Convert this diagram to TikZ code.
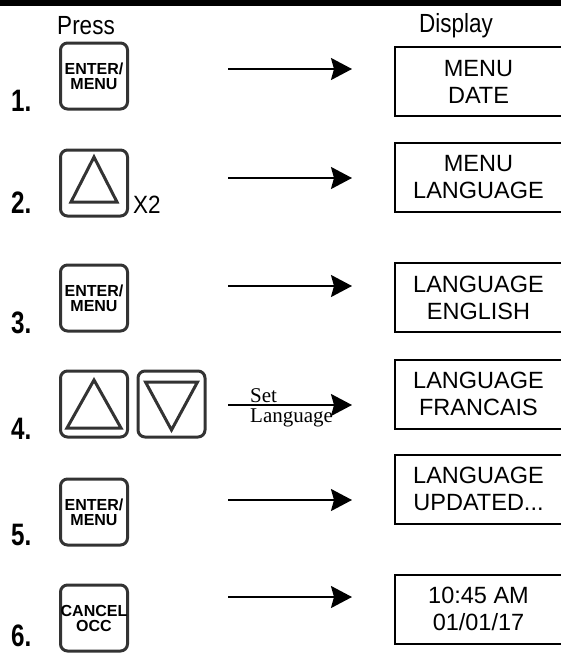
\documentclass[tikz,border=0pt]{standalone}
\usepackage{fontspec}
\setmainfont{Liberation Sans}
\newfontfamily\labelserif{Liberation Serif}
\usepackage{tikz}
\usetikzlibrary{positioning,calc,arrows.meta}
\definecolor{KeyGray}{RGB}{51,51,51}
\tikzset{
    keynode/.style={rectangle, rounded corners=7pt, draw=KeyGray, line width=3pt, minimum width=67pt, minimum height=66pt, inner sep=0pt, align=center, font=\fontsize{16}{15}\selectfont\bfseries},
    dispnode/.style={rectangle, draw=black, line width=2pt, minimum width=167pt, minimum height=69pt, inner sep=0pt, align=center, font=\fontsize{23.5}{27}\selectfont},
    steparrow/.style={line width=2pt, -{Stealth[length=21pt, width=22pt, inset=3pt]}},
    keytri/.style={draw=KeyGray, line width=3pt, line join=miter},
    numnode/.style={anchor=base west, inner sep=0pt, font=\fontsize{31}{31}\selectfont\bfseries},
    headnode/.style={anchor=base, inner sep=0pt, font=\fontsize{25}{25}\selectfont}
}
\newcommand{\stepno}[1]{\scalebox{0.78}[1]{#1}}

\begin{document}
\begin{tikzpicture}[x=1pt, y=1pt]
    \useasboundingbox (0,0) rectangle (561,-653);
    % --- THANH ĐEN PHÍA TRÊN ---
    \fill[black] (0,0) rectangle (561,-6);

    % --- TIÊU ĐỀ ---
    \node[headnode] (press) at (86,-34) {\scalebox{0.9}[1.05]{Press}};
    \node[headnode] (display) at (456,-32) {\scalebox{0.9}[1.05]{Display}};

    % --- SỐ BƯỚC ---
    \node[numnode] (n1) at (11,-111) {\stepno{1.}};
    \node[numnode] (n2) at (11,-213) {\stepno{2.}};
    \node[numnode] (n3) at (11,-333) {\stepno{3.}};
    \node[numnode] (n4) at (11,-439) {\stepno{4.}};
    \node[numnode] (n5) at (11,-545) {\stepno{5.}};
    \node[numnode] (n6) at (11,-646) {\stepno{6.}};

    % --- PHÍM BẤM ---
    \node[keynode] (enter1) at (94,-76) {ENTER/\\MENU};
    \node[keynode] (up1) at (94,-183) {};
    \draw[keytri] ($(up1)+(0,26)$) -- ($(up1)+(-23,-19)$) -- ($(up1)+(23,-19)$) -- cycle;
    \node[anchor=base west, inner sep=0pt, font=\fontsize{25}{25}\selectfont] (times) at (133,-213) {\scalebox{0.9}[1]{X2}};
    \node[keynode] (enter2) at (94,-298) {ENTER/\\MENU};
    \node[keynode] (up2) at (94,-404) {};
    \draw[keytri] ($(up2)+(0,24)$) -- ($(up2)+(-27,-24)$) -- ($(up2)+(27,-24)$) -- cycle;
    \node[keynode] (down2) at (171.5,-404) {};
    \draw[keytri] ($(down2)+(-26,22)$) -- ($(down2)+(26,22)$) -- ($(down2)+(0,-26)$) -- cycle;
    \node[keynode] (enter3) at (94,-512) {ENTER/\\MENU};
    \node[keynode] (cancel) at (94,-618) {CANCEL\\OCC};

    % --- MÀN HÌNH ---
    \node[dispnode] (d1) at (478.5,-81.5) {MENU\\DATE};
    \node[dispnode] (d2) at (478.5,-177.5) {MENU\\LANGUAGE};
    \node[dispnode] (d3) at (478.5,-297.5) {LANGUAGE\\ENGLISH};
    \node[dispnode] (d4) at (478.5,-394) {LANGUAGE\\FRANCAIS};
    \node[dispnode] (d5) at (478.5,-489) {LANGUAGE\\UPDATED...};
    \node[dispnode] (d6) at (478.5,-609) {10:45 AM\\01/01/17};

    % --- MŨI TÊN ---
    \coordinate (s1) at (228,-69);  \coordinate (e1) at (352,-69);
    \coordinate (s2) at (228,-178); \coordinate (e2) at (352,-178);
    \coordinate (s3) at (228,-286); \coordinate (e3) at (352,-286);
    \coordinate (s4) at (228,-405); \coordinate (e4) at (352,-405);
    \coordinate (s5) at (228,-500); \coordinate (e5) at (352,-500);
    \coordinate (s6) at (228,-597); \coordinate (e6) at (352,-597);
    \node[anchor=base west, inner sep=0pt, font=\labelserif\fontsize{21}{21}\selectfont] (setlbl) at (250,-402) {Set};
    \node[anchor=base west, inner sep=0pt, font=\labelserif\fontsize{21}{21}\selectfont] (langlbl) at (250,-422) {Language};
    \draw[steparrow] (s1) -- (e1);
    \draw[steparrow] (s2) -- (e2);
    \draw[steparrow] (s3) -- (e3);
    \draw[steparrow] (s4) -- (e4);
    \draw[steparrow] (s5) -- (e5);
    \draw[steparrow] (s6) -- (e6);
\end{tikzpicture}
\end{document}
